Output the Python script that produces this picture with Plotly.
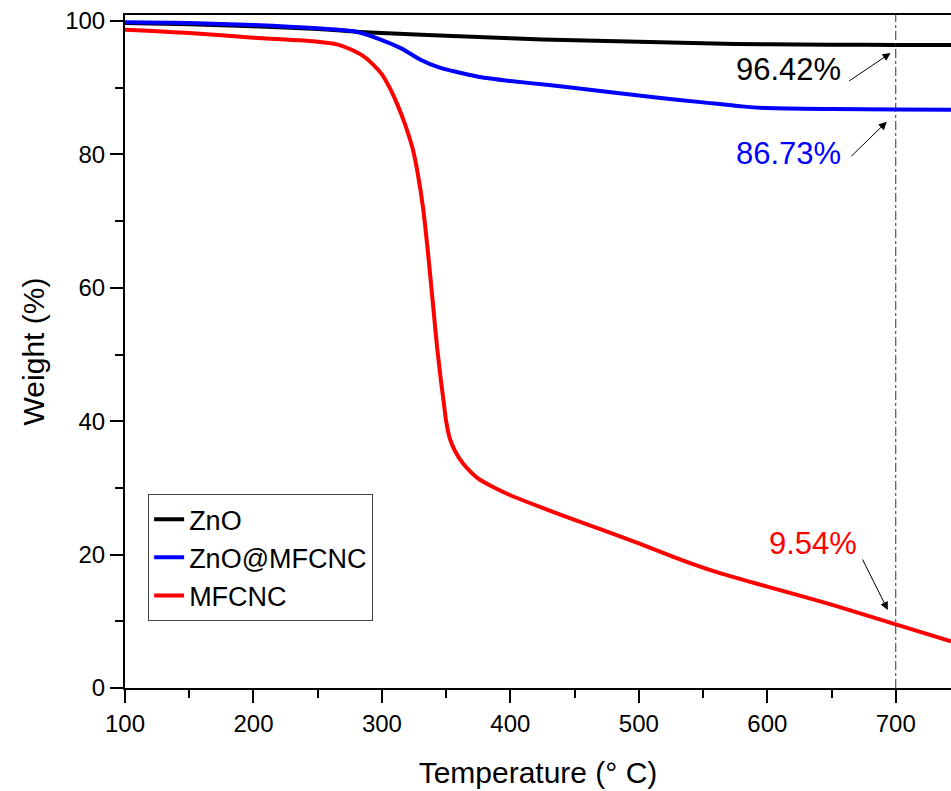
import plotly.graph_objects as go

# ---- data ----
zno_T = [100, 150, 200, 250, 280, 300, 350, 400, 450, 500, 550, 600, 650, 700, 743]
zno_W = [99.7, 99.5, 99.2, 98.8, 98.4, 98.2, 97.8, 97.4, 97.1, 96.9, 96.65, 96.5, 96.45, 96.42, 96.4]

znomf_T = [100, 150, 200, 250, 280, 298, 315, 330, 345, 355, 376, 400, 430, 470, 510, 550, 580, 600, 650, 700, 743]
znomf_W = [99.8, 99.7, 99.4, 98.9, 98.4, 97.3, 95.9, 94.2, 93.0, 92.5, 91.6, 91.0, 90.4, 89.5, 88.6, 87.8, 87.2, 86.95, 86.8, 86.73, 86.7]

mf_T = [100, 150, 200, 250, 265, 275, 285, 293, 300, 306, 312, 318, 324, 328, 332, 336, 340, 343,
        346, 348, 350, 353, 357, 363, 375, 390, 400, 425, 450, 500, 533, 560, 600, 650, 700, 743]
mf_W = [98.7, 98.2, 97.5, 96.9, 96.5, 95.8, 94.8, 93.5, 92.0, 90.0, 87.5, 84.5, 80.8, 77.0, 72.0, 65.0, 57.0, 51.0,
        46.0, 43.0, 40.0, 37.3, 35.5, 33.7, 31.4, 29.8, 28.9, 27.0, 25.2, 21.7, 19.2, 17.4, 15.2, 12.5, 9.54, 7.0]

series_names = ["ZnO", "ZnO@MFCNC", "MFCNC"]
series_colors = ["#000000", "#0000ff", "#ff0000"]

ref_T = 700
final_labels = ["96.42%", "86.73%", "9.54%"]
final_values = [96.42, 86.73, 9.54]

x_ticks = [100, 200, 300, 400, 500, 600, 700]
y_ticks = [0, 20, 40, 60, 80, 100]

FONT = "Liberation Sans, Arial, sans-serif"

fig = go.Figure()
for T, W, name, col in zip([zno_T, znomf_T, mf_T], [zno_W, znomf_W, mf_W], series_names, series_colors):
    fig.add_trace(go.Scatter(x=T, y=W, mode="lines", name=name,
                             line=dict(color=col, width=4, shape="spline", smoothing=0.7)))

fig.add_vline(x=ref_T, line=dict(color="#333333", width=1, dash="dashdot"))

# labels with arrows
text_pos = [(616.7, 92.7), (616.7, 80.2), (635.4, 21.7)]
head_pos = [(696, 95.2), (693, 84.9), (693.8, 11.7)]
tail_off = [(-43, 29), (-37, 36), (-26, -52)]
for lab, col, (tx, ty), (hx, hy), (ax, ay) in zip(final_labels, series_colors, text_pos, head_pos, tail_off):
    fig.add_annotation(x=tx, y=ty, text=lab, showarrow=False,
                       font=dict(family=FONT, size=31, color=col))
    fig.add_annotation(x=hx, y=hy, text="", showarrow=True, ax=ax, ay=ay,
                       arrowhead=2, arrowsize=1.6, arrowwidth=1, arrowcolor="#000000")

axis_common = dict(showline=True, linecolor="black", linewidth=2, ticks="outside", ticklen=13,
                   tickwidth=2, tickcolor="black", showgrid=False, zeroline=False,
                   tickfont=dict(family=FONT, size=24, color="black"))

fig.update_xaxes(range=[100, 743], tickvals=x_ticks, mirror=True,
                 minor=dict(ticks="outside", ticklen=8, tickwidth=2, tickcolor="black", dtick=50, tick0=100),
                 title=dict(text="Temperature (° C)", font=dict(family=FONT, size=30, color="black"), standoff=26),
                 **axis_common)
fig.update_yaxes(range=[0, 100.9], tickvals=y_ticks, mirror=False,
                 minor=dict(ticks="outside", ticklen=8, tickwidth=2, tickcolor="black", dtick=10, tick0=0),
                 title=dict(text="Weight (%)", font=dict(family=FONT, size=30, color="black"), standoff=12),
                 **axis_common)

fig.update_layout(
    width=951, height=791,
    margin=dict(l=125, r=0, t=15, b=103),
    plot_bgcolor="white", paper_bgcolor="white",
    font=dict(family=FONT, color="black"),
    legend=dict(x=0.028, y=0.288, xanchor="left", yanchor="top",
                bordercolor="#444444", borderwidth=1, bgcolor="rgba(255,255,255,0)",
                font=dict(family=FONT, size=27, color="black"), tracegroupgap=0),
)

fig.write_html("out.html")
